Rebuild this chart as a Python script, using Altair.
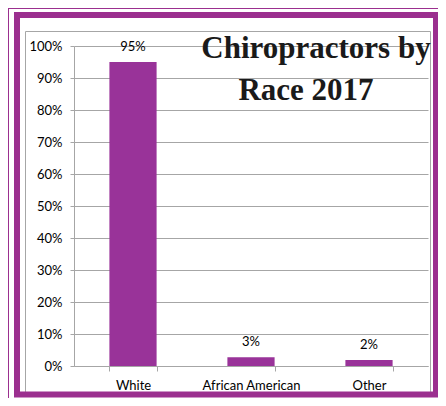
import altair as alt
import pandas as pd

races = ["White", "African American", "Other"]
shares = [0.95, 0.027, 0.019]
title_lines = ["Chiropractors by", "Race 2017"]
y_ticks = [0, 0.1, 0.2, 0.3, 0.4, 0.5, 0.6, 0.7, 0.8, 0.9, 1.0]

df = pd.DataFrame({"race": races, "share": shares})

BAR = "#993399"
BORDER = "#9b2f8f"
GRID = "#a6a6a6"
LABEL_FONT = "Lato"

x_enc = alt.X(
    "race:N", sort=races, title=None,
    scale=alt.Scale(paddingInner=0.6, paddingOuter=0.3),
    axis=alt.Axis(labelAngle=0, labelFont=LABEL_FONT, labelFontSize=13, labelColor="#000000",
                  domainColor=GRID, tickColor=GRID, tickSize=5, tickBand="extent",
                  labelPadding=8),
)
y_enc = alt.Y(
    "share:Q", title=None,
    scale=alt.Scale(domain=[0, 1], nice=False),
    axis=alt.Axis(values=y_ticks, tickCount=20, format=".0%", grid=True, gridColor=GRID,
                  gridWidth=1, labelOverlap=False,
                  domainColor=GRID, tickColor=GRID, tickSize=4, labelPadding=8,
                  labelFont=LABEL_FONT, labelFontSize=13, labelColor="#000000"),
)

one = alt.Data(values=[{}])

thin_top = alt.Chart(one).mark_rule(color=BORDER, strokeWidth=1).encode(
    x=alt.value(-66), x2=alt.value(380), y=alt.value(-37.5))
thin_left = alt.Chart(one).mark_rule(color=BORDER, strokeWidth=1).encode(
    x=alt.value(-65.5), y=alt.value(-38), y2=alt.value(360))
thick = alt.Chart(one).mark_rect(fillOpacity=0, stroke=BORDER, strokeWidth=6).encode(
    x=alt.value(-57), x2=alt.value(362), y=alt.value(-31), y2=alt.value(348.5))
frame = alt.Chart(one).mark_rect(fillOpacity=0, stroke=GRID, strokeWidth=1).encode(
    x=alt.value(-48.5), x2=alt.value(356.5), y=alt.value(-14.5), y2=alt.value(348))

base = alt.Chart(df).encode(x=x_enc, y=y_enc)
bars = base.mark_bar(color=BAR)
labels = base.mark_text(baseline="bottom", dy=-8, font=LABEL_FONT, fontSize=13,
                        color="#000000").encode(text=alt.Text("share:Q", format=".0%"))

t1 = alt.Chart(alt.Data(values=[{"t": title_lines[0]}])).mark_text(
    font="Liberation Serif", fontWeight="bold", fontSize=31, baseline="alphabetic",
    align="center", color="#1a1a1a").encode(text="t:N", x=alt.value(242), y=alt.value(12))
t2 = alt.Chart(alt.Data(values=[{"t": title_lines[1]}])).mark_text(
    font="Liberation Serif", fontWeight="bold", fontSize=31, baseline="alphabetic",
    align="center", color="#1a1a1a").encode(text="t:N", x=alt.value(232), y=alt.value(54))

chart = alt.layer(bars, labels, frame, thin_top, thin_left, thick, t1, t2).properties(
    width=354, height=320,
    autosize=alt.AutoSizeParams(type="none"),
    padding={"left": 66, "top": 38, "right": 10, "bottom": 32},
    background="#ffffff",
).configure_view(strokeWidth=0)

chart.save("out.html", embed_options={"renderer": "svg", "actions": False})
